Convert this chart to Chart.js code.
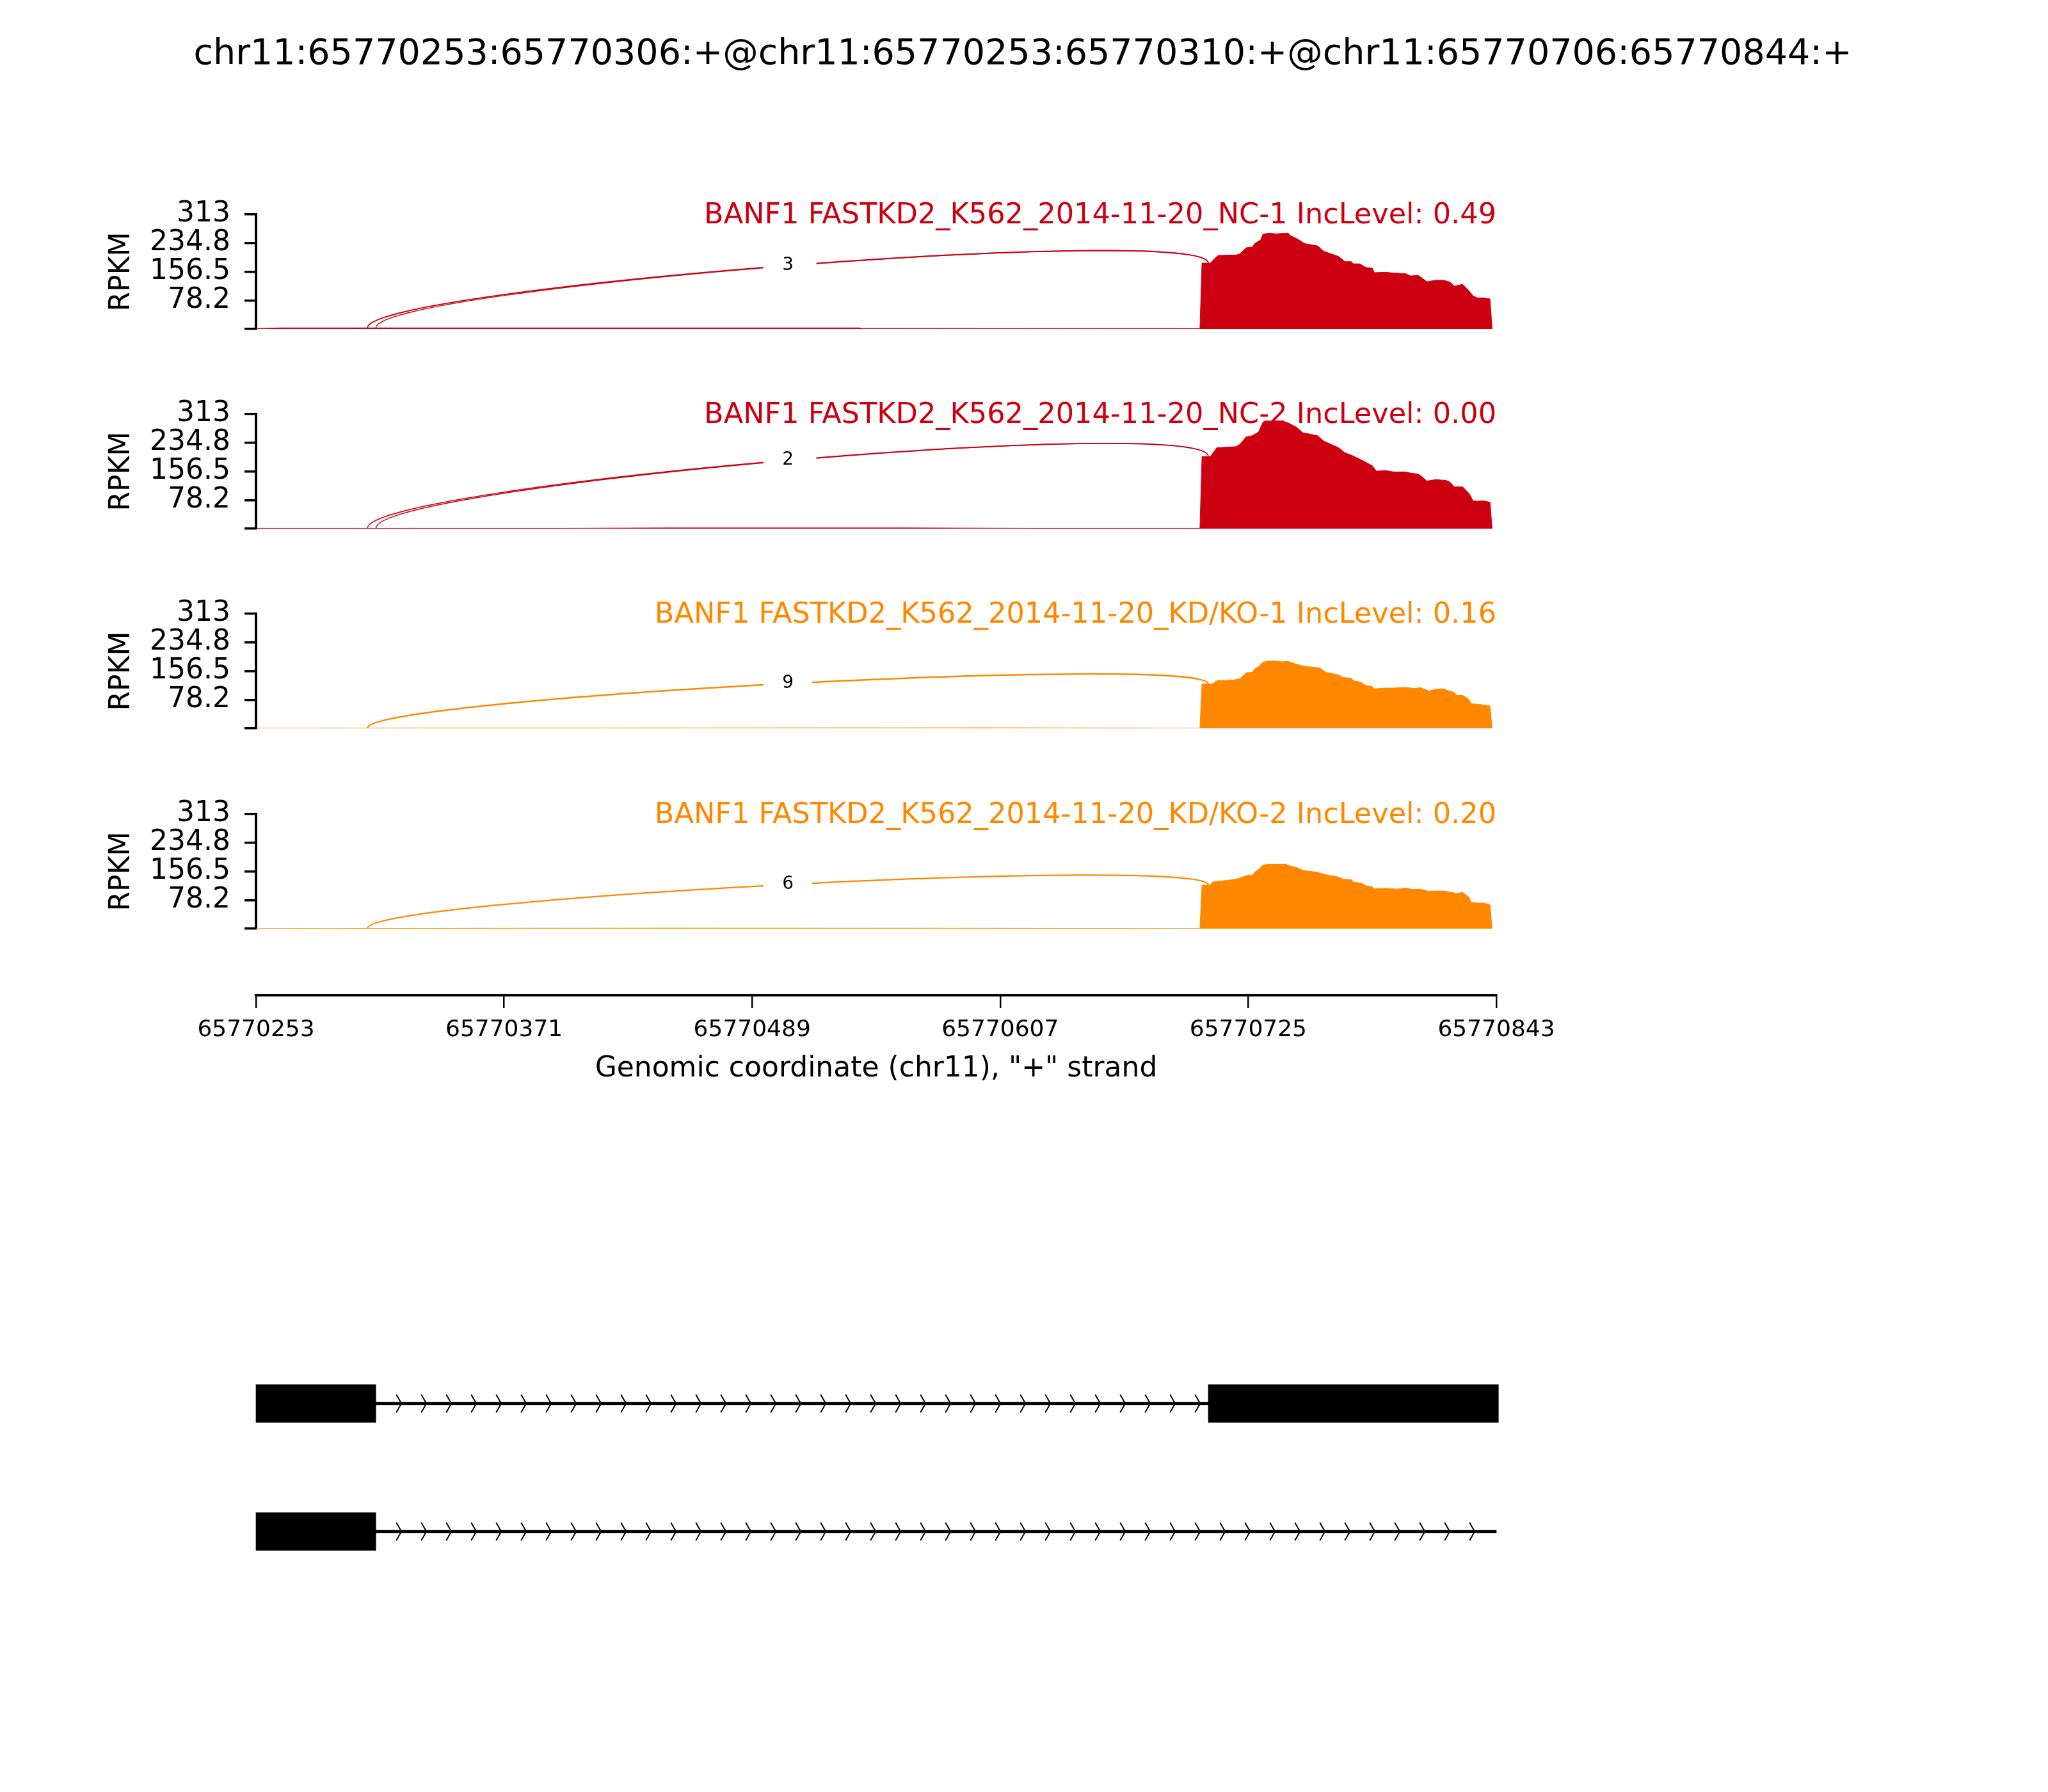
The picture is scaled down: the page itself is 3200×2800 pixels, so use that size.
<!DOCTYPE html>
<html>
<head>
<meta charset="utf-8">
<script src="https://cdn.jsdelivr.net/npm/chart.js@4.4.1/dist/chart.umd.min.js"></script>
<style>
body { margin: 0; background: #fff; width: 3200px; height: 2800px; position: relative; overflow: hidden; }
canvas { position: absolute; left: 0; }
#title { position: absolute; left: 0; width: 3196px; top: 53px; text-align: center;
         font-family: 'DejaVu Sans'; font-size: 55.5px; line-height: 56px; color: #000; }
</style>
</head>
<body>
<div id="title">chr11:65770253:65770306:+@chr11:65770253:65770310:+@chr11:65770706:65770844:+</div>
<canvas id="s0" width="2500" height="319" style="top:255px"></canvas>
<canvas id="s1" width="2500" height="319" style="top:567px"></canvas>
<canvas id="s2" width="2500" height="319" style="top:879px"></canvas>
<canvas id="s3" width="2500" height="319" style="top:1192px"></canvas>
<canvas id="axis" width="2500" height="220" style="top:1500px"></canvas>
<canvas id="genes" width="2500" height="400" style="top:2093px"></canvas>
<script>
// positions are stored as offsets from this chr11 coordinate
const base = 65770000;

const sampleNames = [
    'BANF1 FASTKD2_K562_2014-11-20_NC-1',
    'BANF1 FASTKD2_K562_2014-11-20_NC-2',
    'BANF1 FASTKD2_K562_2014-11-20_KD/KO-1',
    'BANF1 FASTKD2_K562_2014-11-20_KD/KO-2'
];
const incLevels = ['0.49', '0.00', '0.16', '0.20'];
const sampleColors = ['#CC0011', '#CC0011', '#FF8800', '#FF8800'];

const xTicks = [65770253, 65770371, 65770489, 65770607, 65770725, 65770843];
const yTicks = [0, 78.25, 156.5, 234.75, 313];
const yTickLabels = ['', '78.2', '156.5', '234.8', '313'];

// coverage (RPKM)
const covPos1 = [253, 265, 540, 541, 702, 703, 707, 710, 711, 719, 721, 724, 727, 728, 731, 732, 735, 738, 744, 745, 748, 752, 758, 761, 768, 771, 774, 775, 778, 781, 784, 785, 790, 794, 800, 802, 806, 810, 814, 818, 821, 823, 827, 830, 832, 834, 837, 840, 841];
const covVal1 = [1, 3, 3, 1.5, 1, 180, 180, 198, 201, 202, 205, 222, 224, 233, 244, 259, 262, 260, 262, 255, 247, 233, 227, 212, 198, 184, 184, 178, 178, 168, 166, 154, 155, 153, 151, 145, 146, 129, 133, 133, 128, 117, 122, 104, 90, 85, 85, 82, 0];

const covPos2 = [253, 400, 450, 560, 620, 702, 703, 707, 710, 719, 721, 724, 727, 730, 732, 733, 741, 744, 748, 751, 758, 761, 768, 771, 774, 778, 780, 784, 786, 790, 794, 800, 802, 806, 808, 810, 814, 819, 821, 823, 827, 830, 832, 834, 837, 840, 841];
const covVal2 = [1, 1, 2, 2, 1, 1, 197, 197, 221, 224, 230, 251, 254, 265, 291, 294, 294, 289, 277, 262, 254, 239, 221, 207, 201, 190, 184, 172, 157, 159, 155, 155, 152, 149, 140, 130, 134, 132, 127, 114, 114, 96, 76, 75, 76, 72, 0];

const covPos3 = [253, 330, 420, 600, 702, 703, 707, 708, 710, 718, 721, 723, 724, 727, 728, 730, 732, 735, 739, 741, 744, 748, 751, 759, 762, 768, 770, 774, 775, 778, 781, 784, 785, 790, 794, 800, 804, 807, 811, 814, 818, 820, 823, 824, 827, 829, 830, 831, 834, 837, 840, 841];
const covVal3 = [0.5, 1, 1, 1.5, 0.5, 121, 121, 122, 130, 132, 136, 146, 152, 153, 162, 169, 181, 184, 184, 182, 183, 175, 170, 165, 153, 146, 139, 137, 130, 127, 117, 114, 108, 110, 110, 112, 109, 111, 102, 107, 108, 103, 98, 90, 90, 83, 79, 67, 66, 64, 61, 0];

const covPos4 = [253, 350, 450, 620, 702, 703, 707, 708, 710, 718, 721, 724, 727, 728, 730, 732, 735, 743, 745, 748, 751, 758, 762, 768, 770, 774, 775, 779, 781, 784, 785, 790, 796, 800, 803, 807, 811, 814, 818, 822, 824, 827, 830, 831, 834, 837, 840, 841];
const covVal4 = [0.5, 1, 1.5, 1, 0.5, 119, 119, 127, 129, 134, 138, 145, 146, 154, 162, 174, 176, 176, 171, 167, 159, 154, 147, 141, 135, 134, 127, 124, 117, 114, 109, 110, 108, 111, 107, 108, 102, 103, 103, 99, 96, 99, 86, 72, 70, 70, 65, 0];

const covPos = [covPos1, covPos2, covPos3, covPos4];
const covVal = [covVal1, covVal2, covVal3, covVal4];

// splice junctions: start, end, read count
const jxnStarts = [[310, 306], [310, 306], [306], [306]];
const jxnEnds = [[706, 706], [706, 706], [706], [706]];
const jxnCounts = [[1, 3], [1, 2], [9], [6]];
const arcLift = [109, 117, 82, 81];

// gene model
const txNames = ['isoform 1', 'isoform 2'];
const txExons = [[[253, 310], [706, 844]], [[253, 310]]];
const txIntrons = [[310, 706], [310, 843]];

Chart.defaults.font.family = "'DejaVu Sans'";
Chart.defaults.color = '#000';
Chart.defaults.animation = false;

function covAt(s, p){
    const pos = covPos[s], val = covVal[s];
    if (p <= pos[0]) return val[0];
    for (let i = 1; i < pos.length; i++) {
        if (p <= pos[i]) {
            const f = (p - pos[i-1]) / (pos[i] - pos[i-1]);
            return val[i-1] + f * (val[i] - val[i-1]);
        }
    }
    return val[val.length-1];
}

const sashimiPlugin = {
    id: 'sashimi',
    afterDatasetsDraw(chart, args, opts){
        const s = opts.sample;
        const ctx = chart.ctx;
        const x = chart.scales.x, y = chart.scales.y;
        const color = sampleColors[s];
        const labels = [];
        ctx.save();
        jxnStarts[s].forEach((st, j) => {
            const en = jxnEnds[s][j];
            const x1 = x.getPixelForValue(base + st);
            const x2 = x.getPixelForValue(base + en);
            const v1 = covAt(s, st), v2 = covAt(s, en);
            const ya = y.getPixelForValue(v1), yb = y.getPixelForValue(v2);
            const c1 = y.getPixelForValue(v1 + arcLift[s]);
            const c2 = y.getPixelForValue(v2 + arcLift[s]);
            ctx.strokeStyle = color;
            ctx.lineWidth = 1 + 1.5 * Math.log10(jxnCounts[s][j] + 1);
            ctx.beginPath();
            ctx.moveTo(x1, ya);
            ctx.bezierCurveTo(x1, c1, x2, c2, x2, yb);
            ctx.stroke();
            labels.push({x: (x1 + x2) / 2, y: (ya + 3 * c1 + 3 * c2 + yb) / 8, n: jxnCounts[s][j]});
        });
        ctx.font = "28px 'DejaVu Sans'";
        ctx.textAlign = 'center';
        ctx.textBaseline = 'middle';
        labels.forEach(l => {
            ctx.fillStyle = '#fff';
            ctx.fillRect(l.x - 38, l.y - 20, 76, 40);
            ctx.fillStyle = '#000';
            ctx.fillText(String(l.n), l.x, l.y);
        });
        ctx.font = "44.6px 'DejaVu Sans'";
        ctx.fillStyle = color;
        ctx.textAlign = 'right';
        ctx.textBaseline = 'alphabetic';
        ctx.fillText(sampleNames[s] + ' IncLevel: ' + incLevels[s], chart.chartArea.right, chart.chartArea.top + 14);
        ctx.restore();
    }
};

function drawSample(s){
    const ctx = document.querySelector('#s' + s).getContext('2d');
    new Chart(ctx, {
        type: 'line',
        data: {
            datasets: [{
                data: covPos[s].map((p, i) => ({x: base + p, y: covVal[s][i]})),
                fill: 'origin',
                backgroundColor: sampleColors[s],
                borderColor: sampleColors[s],
                borderWidth: 1,
                pointRadius: 0,
                tension: 0
            }]
        },
        options: {
            responsive: false,
            layout: { padding: { left: 0, right: 162, top: 80, bottom: 60 } },
            plugins: { legend: { display: false }, tooltip: { enabled: false }, sashimi: { sample: s } },
            scales: {
                x: { type: 'linear', min: base + 253, max: base + 843, display: false },
                y: {
                    min: 0,
                    max: 313,
                    afterBuildTicks: scale => { scale.ticks = yTicks.map(v => ({value: v})); },
                    afterFit: scale => { scale.width = 400; },
                    ticks: {
                        callback: (v, i) => yTickLabels[i],
                        autoSkip: false,
                        font: { size: 44 },
                        padding: 22,
                        color: '#000'
                    },
                    grid: { drawOnChartArea: false, drawTicks: true, tickLength: 18, lineWidth: 3.5, color: '#000' },
                    border: { display: true, width: 4, color: '#000' },
                    title: { display: true, text: 'RPKM', font: { size: 44 }, padding: { top: 164, bottom: 0 } }
                }
            }
        },
        plugins: [sashimiPlugin]
    });
}

for (let s = 0; s < 4; s++) drawSample(s);

// shared genomic axis
new Chart(document.querySelector('#axis').getContext('2d'), {
    type: 'scatter',
    data: { datasets: [] },
    options: {
        responsive: false,
        layout: { padding: { left: 400, right: 162, top: 0, bottom: 0 } },
        plugins: { legend: { display: false }, tooltip: { enabled: false } },
        scales: {
            x: {
                type: 'linear',
                min: base + 253,
                max: base + 843,
                afterBuildTicks: scale => { scale.ticks = xTicks.map(v => ({value: v})); },
                afterFit: scale => { scale.height = 165; },
                ticks: { callback: v => String(v), autoSkip: false, font: { size: 36 }, padding: 13, maxRotation: 0, color: '#000' },
                grid: { drawOnChartArea: false, drawTicks: true, tickLength: 20, lineWidth: 2.5, color: '#000' },
                border: { display: true, width: 4, color: '#000' },
                title: { display: true, text: 'Genomic coordinate (chr11), "+" strand', font: { size: 44 }, padding: { top: 0, bottom: 23 } }
            },
            y: { display: false }
        }
    }
});

// gene model tracks
const chevronPlugin = {
    id: 'chevrons',
    afterDatasetsDraw(chart){
        const ctx = chart.ctx;
        const meta = chart.getDatasetMeta(chart.data.datasets.length - 1);
        ctx.save();
        ctx.strokeStyle = '#000';
        ctx.lineWidth = 2;
        meta.data.forEach(bar => {
            if (!bar || bar.skip) return;
            const p = bar.getProps(['x', 'base', 'y'], true);
            const x0 = Math.min(p.x, p.base), x1 = Math.max(p.x, p.base);
            for (let px = x0; px < x1 - 12; px += 39) {
                ctx.beginPath();
                ctx.moveTo(px - 7, p.y - 14);
                ctx.lineTo(px + 1, p.y);
                ctx.lineTo(px - 7, p.y + 14);
                ctx.stroke();
            }
        });
        ctx.restore();
    }
};

const maxExons = Math.max(...txExons.map(e => e.length));
const geneSets = [];
for (let k = 0; k < maxExons; k++) {
    geneSets.push({
        data: txExons.map(ex => ex[k] ? [base + ex[k][0], base + ex[k][1]] : null),
        backgroundColor: '#000',
        borderWidth: 0,
        barThickness: 59,
        grouped: false,
        clip: false
    });
}
geneSets.push({
    data: txIntrons.map(iv => [base + iv[0], base + iv[1]]),
    backgroundColor: '#000',
    borderWidth: 0,
    barThickness: 4,
    grouped: false,
    clip: false
});

new Chart(document.querySelector('#genes').getContext('2d'), {
    type: 'bar',
    data: { labels: txNames, datasets: geneSets },
    options: {
        indexAxis: 'y',
        responsive: false,
        layout: { padding: { left: 400, right: 162, top: 0, bottom: 0 } },
        plugins: { legend: { display: false }, tooltip: { enabled: false } },
        scales: {
            x: { type: 'linear', min: base + 253, max: base + 843, display: false },
            y: { display: false }
        }
    },
    plugins: [chevronPlugin]
});
</script>
</body>
</html>
